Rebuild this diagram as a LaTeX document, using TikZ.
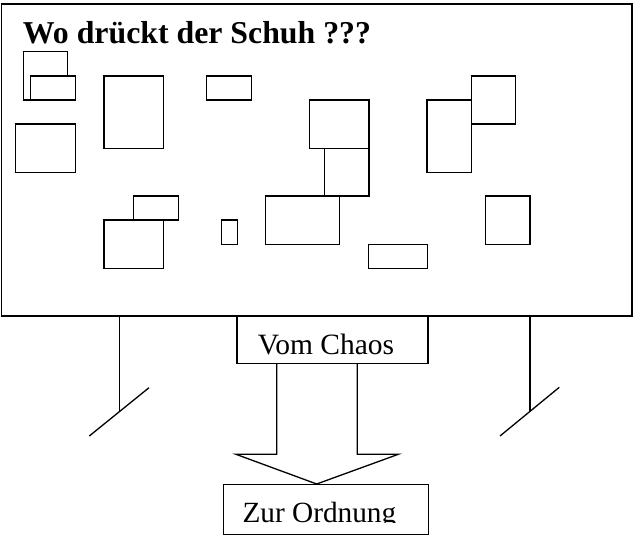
\documentclass[tikz,border=0pt]{standalone}
\usepackage{fontspec}
\setmainfont{Liberation Serif}
\tikzset{
  patch/.style={draw, fill=white, line width=1.3pt},
  label box/.style={draw, line width=1.3pt, minimum height=47pt, inner sep=0pt},
  leg/.style={line width=1.3pt}
}
\begin{document}
\begin{tikzpicture}[x=1pt, y=-1pt]
        \useasboundingbox (0, 0) rectangle (634, 535);

        % the board
        \draw[line width=1.8pt] (1.5, 4) rectangle (632, 316);
        \node[anchor=base west, inner sep=0pt, font=\fontsize{31.8}{38}\selectfont\bfseries] (title) at (22.7, 43.3) {Wo drückt der Schuh ???};

        % scattered cards
        \draw[patch] (23.3, 51.7) rectangle (67.7, 100);
        \draw[patch] (30.7, 76) rectangle (75.7, 100);
        \draw[patch] (104, 76) rectangle (163.3, 148.3);
        \draw[patch] (206.7, 76) rectangle (251.7, 100);
        \draw[patch] (15.7, 124) rectangle (75.7, 172.3);
        \draw[patch] (133.3, 196) rectangle (178.3, 220);
        \draw[patch] (104, 220) rectangle (163.3, 268.3);
        \draw[patch] (221.7, 220) rectangle (237.3, 244.3);
        \draw[patch] (265.7, 196) rectangle (339.3, 244.3);
        \draw[patch] (309.3, 100) rectangle (369, 148.3);
        \draw[patch] (324.3, 148.3) rectangle (369, 196);
        \draw[patch] (427, 100) rectangle (471.3, 172.3);
        \draw[patch] (471.3, 76) rectangle (515.7, 124);
        \draw[patch] (485.7, 196) rectangle (530, 244.3);
        \draw[patch] (368.3, 244.3) rectangle (427.7, 268.3);

        % legs of the board
        \coordinate (L1) at (119.3, 316);
        \coordinate (L2) at (119.3, 411.5);
        \coordinate (F1) at (89.3, 436);
        \coordinate (F2) at (149, 387.7);
        \draw[leg] (L1) -- (L2);
        \draw[leg] (F1) -- (F2);
        \coordinate (R1) at (530, 316);
        \coordinate (R2) at (530, 412.3);
        \coordinate (G1) at (500, 436);
        \coordinate (G2) at (559.3, 387.3);
        \draw[leg] (R1) -- (R2);
        \draw[leg] (G1) -- (G2);

        % from chaos ...
        \node[label box, anchor=north west, minimum width=191pt] (chaos) at (236.3, 316) {};
        \node[anchor=base west, inner sep=0pt, font=\fontsize{29.5}{34}\selectfont] (chaostext) at (257.7, 354.3) {Vom Chaos};

        % ... to order
        \node[label box, anchor=north west, minimum width=205pt, minimum height=49.5pt] (order) at (222.5, 484) {};
        \begin{scope}
          \clip (222.5, 484) rectangle (427.5, 522.8);
          \node[anchor=base west, inner sep=0pt, font=\fontsize{29.3}{34}\selectfont] (ordertext) at (242.3, 522.5) {Zur Ordnung};
        \end{scope}

        % the big arrow
        \coordinate (a1) at (276.7, 363.3);
        \coordinate (a2) at (276.7, 454.3);
        \coordinate (a3) at (236, 454.3);
        \coordinate (a4) at (316.7, 484);
        \coordinate (a5) at (398.3, 454.3);
        \coordinate (a6) at (357.3, 454.3);
        \coordinate (a7) at (357.3, 363.3);
        \draw[leg, line join=miter] (a1) -- (a2) -- (a3) -- (a4) -- (a5) -- (a6) -- (a7);
\end{tikzpicture}
\end{document}
